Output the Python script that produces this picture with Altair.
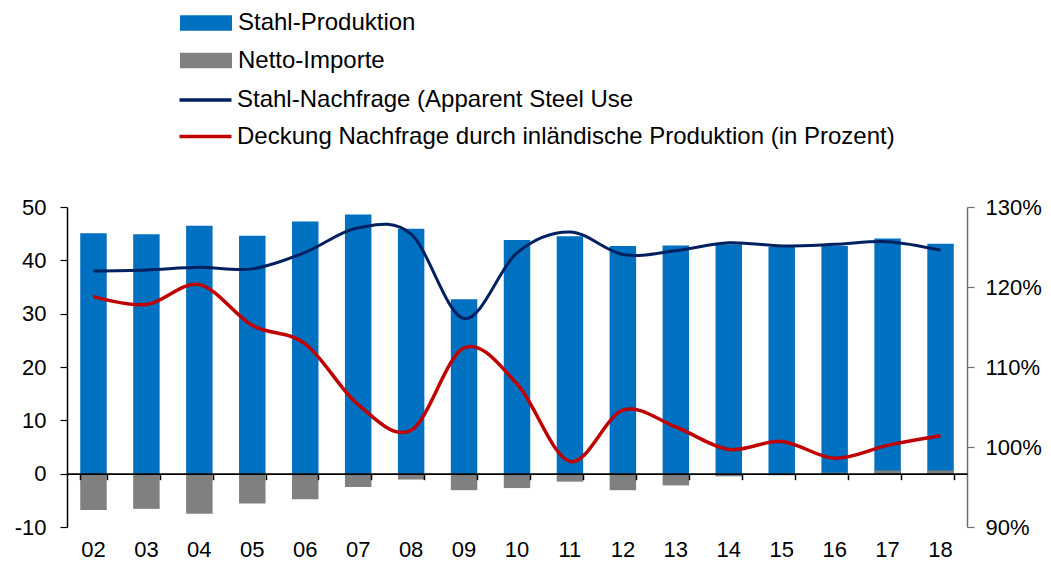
import altair as alt
import pandas as pd

jahre = ["02", "03", "04", "05", "06", "07", "08", "09", "10",
         "11", "12", "13", "14", "15", "16", "17", "18"]
produktion = [45.1, 44.9, 46.5, 44.6, 47.3, 48.6, 45.9, 32.7, 43.8,
              44.5, 42.7, 42.8, 43.0, 42.5, 42.7, 44.1, 43.1]
netto_importe = [-6.8, -6.6, -7.5, -5.6, -4.8, -2.5, -1.1, -3.1, -2.7,
                 -1.5, -3.1, -2.2, -0.5, -0.3, 0.2, 0.6, 0.6]
nachfrage = [38.0, 38.2, 38.7, 38.4, 41.5, 46.1, 44.9, 29.1, 41.4,
             45.3, 41.1, 41.8, 43.3, 42.7, 43.0, 43.5, 41.9]
deckung = [118.8, 117.8, 120.3, 115.2, 112.9, 105.3, 102.1, 112.4, 107.9,
           98.2, 104.6, 102.5, 99.7, 100.7, 98.6, 100.2, 101.4]

bar_series = ["Stahl-Produktion", "Netto-Importe"]
line_series = ["Stahl-Nachfrage (Apparent Steel Use",
               "Deckung Nachfrage durch inländische Produktion (in Prozent)"]
left_ticks = [-10, 0, 10, 20, 30, 40, 50]
right_ticks = [90, 100, 110, 120, 130]

FONT = "Liberation Sans"
W, H = 900, 320

bars_df = pd.DataFrame({
    "Jahr": jahre * 2,
    "Serie": [bar_series[0]] * len(jahre) + [bar_series[1]] * len(jahre),
    "Wert": produktion + netto_importe,
})
nach_df = pd.DataFrame({"Jahr": jahre, "Serie": line_series[0], "Wert": nachfrage})
deck_df = pd.DataFrame({"Jahr": jahre, "Serie": line_series[1], "Wert": deckung})

x_scale = alt.Scale(domain=jahre, paddingInner=0.5, paddingOuter=0.25)
y_left = alt.Scale(domain=[-10, 50], nice=False, zero=False)
y_right = alt.Scale(domain=[90, 130], nice=False, zero=False)

zero_offset = -H * 10 / 60.0

tick_axis = alt.Axis(orient="bottom", offset=zero_offset, labels=False, domain=True,
                     domainColor="black", domainWidth=1.6, ticks=True, tickBand="extent",
                     tickSize=6, tickColor="black", tickWidth=1.5, grid=False, title=None,
                     zindex=1)
label_axis = alt.Axis(orient="bottom", domain=False, ticks=False, tickSize=0, labelPadding=12,
                      labelFontSize=22, labelFont=FONT, labelColor="black", labelAngle=0,
                      title=None, grid=False)
left_axis = alt.Axis(orient="left", values=left_ticks, labelExpr="'' + datum.value",
                     domainColor="black", domainWidth=1.5, tickColor="black", tickSize=7,
                     tickWidth=1.2, labelFontSize=22, labelFont=FONT, labelPadding=14,
                     labelColor="black", grid=False, title=None)
right_axis = alt.Axis(orient="right", values=right_ticks, labelExpr="datum.value + '%'",
                      domainColor="#6f6f6f", domainWidth=1.5, tickColor="#6f6f6f", tickSize=7,
                      tickWidth=1.2, labelFontSize=22, labelFont=FONT, labelPadding=11,
                      labelColor="black", grid=False, title=None)

fill_scale = alt.Scale(domain=bar_series, range=["#0070C0", "#808080"])
stroke_scale = alt.Scale(domain=line_series, range=["#002060", "#C00000"])

bar_legend = alt.Legend(title=None, orient="none", legendX=126, legendY=-197,
                        direction="vertical", symbolType="M-2,-0.6H2V0.6H-2Z",
                        symbolSize=676, symbolStrokeWidth=0, labelFontSize=24,
                        labelFont=FONT, labelColor="black", labelOffset=19,
                        rowPadding=12.5, padding=0, labelLimit=1000)
line_legend = alt.Legend(title=None, orient="none", legendX=123.5, legendY=-122,
                         direction="vertical", symbolType="M-2,0H2",
                         symbolSize=676, symbolStrokeWidth=3.5, labelFontSize=24,
                         labelFont=FONT, labelColor="black", labelOffset=16.5,
                         rowPadding=9.5, padding=0, labelLimit=1000)

bars = alt.Chart(bars_df).mark_bar().encode(
    x=alt.X("Jahr:N", scale=x_scale, axis=tick_axis, sort=jahre),
    y=alt.Y("Wert:Q", scale=y_left, stack=None, axis=left_axis),
    fill=alt.Fill("Serie:N", scale=fill_scale, legend=bar_legend),
)

navy = alt.Chart(nach_df).mark_line(interpolate="cardinal", strokeWidth=3).encode(
    x=alt.X("Jahr:N", scale=x_scale, axis=tick_axis, sort=jahre),
    y=alt.Y("Wert:Q", scale=y_left, axis=left_axis),
    stroke=alt.Stroke("Serie:N", scale=stroke_scale, legend=line_legend),
)

red = alt.Chart(deck_df).mark_line(interpolate="cardinal", strokeWidth=3.5).encode(
    x=alt.X("Jahr:N", scale=x_scale, axis=label_axis, sort=jahre),
    y=alt.Y("Wert:Q", scale=y_right, axis=right_axis),
    stroke=alt.Stroke("Serie:N", scale=stroke_scale, legend=line_legend),
)

left = alt.layer(bars, navy)
chart = (
    alt.layer(left, red)
    .resolve_scale(y="independent")
    .resolve_axis(x="independent")
    .properties(
        width=W, height=H,
        autosize=alt.AutoSizeParams(type="none"),
        padding={"left": 59, "top": 199, "right": 76, "bottom": 35},
    )
    .configure(font=FONT)
    .configure_view(stroke=None)
)

chart.save("out.html", embed_options={"renderer": "svg", "actions": False})
